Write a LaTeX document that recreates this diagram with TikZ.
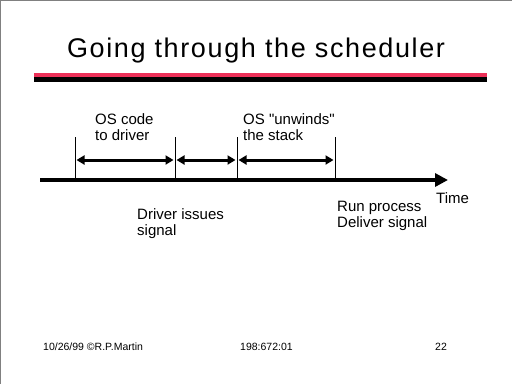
\documentclass[tikz,border=0pt]{standalone}
\usepackage{fontspec}
\setmainfont{Liberation Sans}
\newfontfamily\titlefont[LetterSpace=6]{Liberation Sans}
\usetikzlibrary{arrows.meta,positioning}
\definecolor{SlideRed}{RGB}{236,48,88}
\definecolor{FrameGray}{RGB}{128,128,128}

\begin{document}
\begin{tikzpicture}[x=1pt,y=-1pt,
  label/.style={anchor=north west,inner sep=0pt,align=left,
                font=\fontsize{15}{16}\selectfont},
  foot/.style={anchor=base west,inner sep=0pt,font=\fontsize{10.5}{12}\selectfont},
  tick/.style={draw=black,line width=1pt},
  span/.style={draw=black,line width=3pt,shorten <=1.5pt,shorten >=1.5pt,
               {Triangle[length=8pt,width=9pt]}-{Triangle[length=8pt,width=9pt]}},
  timeline/.style={draw=black,line width=4pt,-{Triangle[length=13pt,width=13pt]}},
]
\useasboundingbox (0,0) rectangle (512,384);
\fill[white] (0,0) rectangle (512,384);
\draw[FrameGray,line width=2pt] (0,384) -- (0,0) -- (512,0);

% title and rule
\node[anchor=base,inner sep=0pt,font=\titlefont\fontsize{27}{30}\selectfont] (title) at (256,57) {Going through the scheduler};
\fill[SlideRed] (34,73) rectangle (487,77);
\fill[black] (34,77) rectangle (487,82);

% time axis
\coordinate (tstart) at (40,180);
\coordinate (tend) at (448,180);
\coordinate (mid) at (0,160);
\draw[timeline] (tstart) -- (tend);
\foreach \x/\n in {75/1,175/2,237/3,335/4} {
  \coordinate (top\n) at (\x,137);
  \coordinate (bot\n) at (\x,180);
  \draw[tick] (top\n) -- (bot\n);
}
\draw[span] (top1 |- mid) -- (top2 |- mid);
\draw[span] (top2 |- mid) -- (top3 |- mid);
\draw[span] (top3 |- mid) -- (top4 |- mid);

% labels
\node[label] (oscode) at (95,113) {OS code\\to driver};
\node[label] (unwind) at (243,113) {OS \textquotedbl unwinds\textquotedbl\\the stack};
\node[label] (driver) at (137,208) {Driver issues\\signal};
\node[label] (runproc) at (337,201) {Run process\\Deliver signal};
\node[label] (time) at (436,192) {Time};

% footer
\node[foot] (date) at (43,350) {10/26/99 ©R.P.Martin};
\node[foot] (course) at (240,350) {198:672:01};
\node[foot] (page) at (435,350) {22};
\end{tikzpicture}
\end{document}
